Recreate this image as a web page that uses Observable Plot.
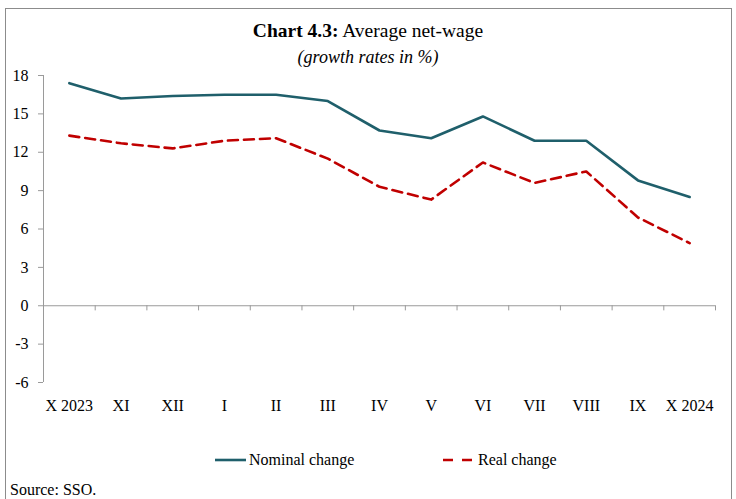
<!DOCTYPE html>
<html>
<head>
<meta charset="utf-8">
<script src="https://cdn.jsdelivr.net/npm/d3@7"></script>
<script src="https://cdn.jsdelivr.net/npm/@observablehq/plot@0.6"></script>
<style>
  html, body { margin: 0; padding: 0; background: #fff; overflow: hidden; }
  #wrap { position: relative; width: 736px; height: 499px; font-family: "Liberation Serif", serif; color: #000; }
  #frame { position: absolute; left: 5px; top: 8px; width: 727px; height: 600px; border: 1px solid #8c8c8c; box-sizing: border-box; }
  #title { position: absolute; left: 0; width: 736px; top: 19px; text-align: center; font-size: 19.5px; line-height: 24px; }
  #subtitle { position: absolute; left: 0; width: 736px; top: 45px; text-align: center; font-size: 18px; font-style: italic; line-height: 24px; }
  #chart { position: absolute; left: 0; top: 0; }
  .leg { position: absolute; top: 450px; font-size: 16px; line-height: 20px; display: flex; align-items: center; }
  .leg svg { margin-right: 2px; }
  #source { position: absolute; left: 10px; top: 480px; font-size: 16px; line-height: 20px; }
</style>
</head>
<body>
<div id="wrap">
  <div id="frame"></div>
  <div id="chart"></div>
  <div id="title"><b>Chart 4.3:</b> Average net-wage</div>
  <div id="subtitle">(growth rates in %)</div>
  <div class="leg" id="leg1" style="left:215px"></div>
  <div class="leg" id="leg2" style="left:443px"></div>
  <div id="source">Source: SSO.</div>
</div>
<script>
const categories = ["X 2023","XI","XII","I","II","III","IV","V","VI","VII","VIII","IX","X 2024"];
const nominal = [17.4,16.2,16.4,16.5,16.5,16.0,13.7,13.1,14.8,12.9,12.9,9.8,8.5];
const real = [13.3,12.7,12.3,12.9,13.1,11.5,9.3,8.3,11.2,9.6,10.5,6.9,4.9];
const yTicks = [-6,-3,0,3,6,9,12,15,18];
const seriesNames = ["Nominal change","Real change"];
const colors = ["#1f5f6b","#c00000"];

const idx = d3.range(categories.length);
const boundaries = d3.range(categories.length + 1).map(i => i - 0.5);
const axisGrey = "#9a9a9a";

const plot = Plot.plot({
  width: 736,
  height: 420,
  marginLeft: 43,
  marginRight: 21,
  marginTop: 75,
  marginBottom: 38,
  style: { fontFamily: "Liberation Serif, serif", fontSize: "16px", color: "#000", background: "transparent" },
  x: { type: "linear", domain: [-0.5, categories.length - 0.5] },
  y: { domain: [-6, 18] },
  marks: [
    Plot.ruleX([-0.5], { stroke: axisGrey, strokeWidth: 1 }),
    Plot.axisY({ ticks: yTicks, tickSize: 5, tickPadding: 10, stroke: axisGrey, label: null, fill: "#000", tickFormat: d => String(d) }),
    Plot.ruleY([0], { stroke: axisGrey, strokeWidth: 1 }),
    Plot.ruleX(boundaries, { x: d => d, y1: 0, y2: -0.4, stroke: axisGrey, strokeWidth: 1 }),
    Plot.axisX({ ticks: idx, tickFormat: i => categories[i], tickSize: 0, tickPadding: 17, frameAnchor: "bottom", label: null, fill: "#000" }),
    Plot.line(nominal, { x: (d, i) => i, y: d => d, stroke: colors[0], strokeWidth: 2.6 }),
    Plot.line(real, { x: (d, i) => i, y: d => d, stroke: colors[1], strokeWidth: 2.6, strokeDasharray: "10,6" })
  ]
});
document.getElementById("chart").appendChild(plot);

document.getElementById("leg1").innerHTML =
  `<svg width="32" height="10"><line x1="0" x2="31" y1="5" y2="5" stroke="${colors[0]}" stroke-width="2.6"/></svg><span>${seriesNames[0]}</span>`;
document.getElementById("leg2").innerHTML =
  `<svg width="33" height="10"><line x1="0" x2="30" y1="5" y2="5" stroke="${colors[1]}" stroke-width="2.6" stroke-dasharray="10,9"/></svg><span>${seriesNames[1]}</span>`;
</script>
</body>
</html>
